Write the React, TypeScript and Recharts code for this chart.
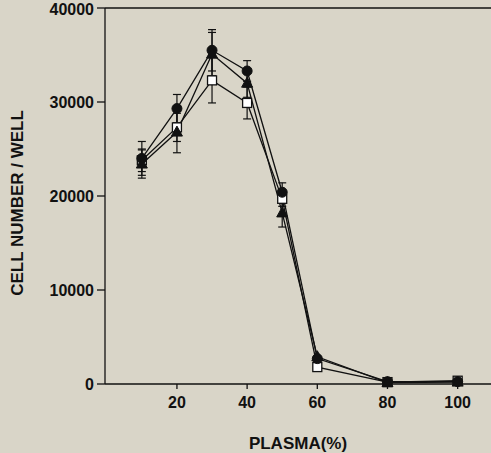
import React from 'react';
import { LineChart, Line, XAxis, YAxis, ErrorBar, ReferenceLine } from 'recharts';

const plasma = [10, 20, 30, 40, 50, 60, 80, 100];
const circleVals = [24000, 29300, 35500, 33300, 20400, 2700, 250, 250];
const squareVals = [23800, 27300, 32300, 29900, 19700, 1800, 200, 350];
const triangleVals = [23400, 26800, 35100, 32000, 18200, 2900, 150, 200];
const circleErr = [1800, 1500, 2200, 1100, 1000, 0, 0, 0];
const squareErr = [1200, 1500, 2400, 1700, 800, 0, 0, 0];
const triangleErr = [1500, 2200, 2300, 1500, 1500, 0, 0, 0];
const xTicks = [20, 40, 60, 80, 100];
const yTicks = [0, 10000, 20000, 30000, 40000];

const data = plasma.map((p, i) => ({
  p,
  c: circleVals[i],
  s: squareVals[i],
  t: triangleVals[i],
  ce: circleErr[i],
  se: squareErr[i],
  te: triangleErr[i],
}));

const ink = '#111';
const font = 'Liberation Sans, Arial, sans-serif';

const CircleDot = (props: any) => {
  const { cx, cy, index } = props;
  return <circle key={`c${index}`} cx={cx} cy={cy} r={5} fill={ink} stroke={ink} />;
};
const SquareDot = (props: any) => {
  const { cx, cy, index } = props;
  return <rect key={`s${index}`} x={cx - 4.5} y={cy - 4.5} width={9} height={9} fill="#fff" stroke={ink} strokeWidth={1.3} />;
};
const TriDot = (props: any) => {
  const { cx, cy, index } = props;
  return <path key={`t${index}`} d={`M${cx},${cy - 6} L${cx + 5.5},${cy + 4} L${cx - 5.5},${cy + 4} Z`} fill={ink} stroke={ink} />;
};

const YLabel = () => (
  <text
    x={23}
    y={203}
    transform="rotate(-90 23 203)"
    textAnchor="middle"
    fill={ink}
    fontSize={17}
    fontWeight={700}
    fontFamily={font}
  >
    CELL NUMBER / WELL
  </text>
);

export default function App() {
  return (
    <div style={{ position: 'absolute', left: 0, top: 0, width: 491, height: 453, background: '#d9d5c8' }}>
      <LineChart width={491} height={453} data={data} margin={{ top: 8, right: 0, left: 0, bottom: 0 }}>
        <XAxis
          dataKey="p"
          type="number"
          domain={[-0.5, 109.5]}
          ticks={xTicks}
          allowDataOverflow
          stroke={ink}
          strokeWidth={1.3}
          tickSize={5}
          tickMargin={8}
          height={69}
          tick={{ fill: ink, fontSize: 16, fontWeight: 700, fontFamily: font }}
          label={{ value: 'PLASMA(%)', position: 'insideBottom', offset: 4, fill: ink, fontSize: 17, fontWeight: 700, fontFamily: font }}
        />
        <YAxis
          type="number"
          domain={[0, 40000]}
          ticks={yTicks}
          stroke={ink}
          strokeWidth={1.3}
          tickSize={8}
          tickMargin={3}
          width={105}
          tick={{ fill: ink, fontSize: 16, fontWeight: 700, fontFamily: font }}
          label={{ value: 'CELL NUMBER / WELL', content: YLabel }}
        />
        <ReferenceLine y={40000} stroke={ink} strokeWidth={1.3} />
        <Line dataKey="s" stroke={ink} strokeWidth={1.3} dot={SquareDot} isAnimationActive={false}>
          <ErrorBar dataKey="se" width={4} stroke={ink} strokeWidth={1.2} />
        </Line>
        <Line dataKey="c" stroke={ink} strokeWidth={1.3} dot={CircleDot} isAnimationActive={false}>
          <ErrorBar dataKey="ce" width={4} stroke={ink} strokeWidth={1.2} />
        </Line>
        <Line dataKey="t" stroke={ink} strokeWidth={1.3} dot={TriDot} isAnimationActive={false}>
          <ErrorBar dataKey="te" width={4} stroke={ink} strokeWidth={1.2} />
        </Line>
      </LineChart>
    </div>
  );
}
